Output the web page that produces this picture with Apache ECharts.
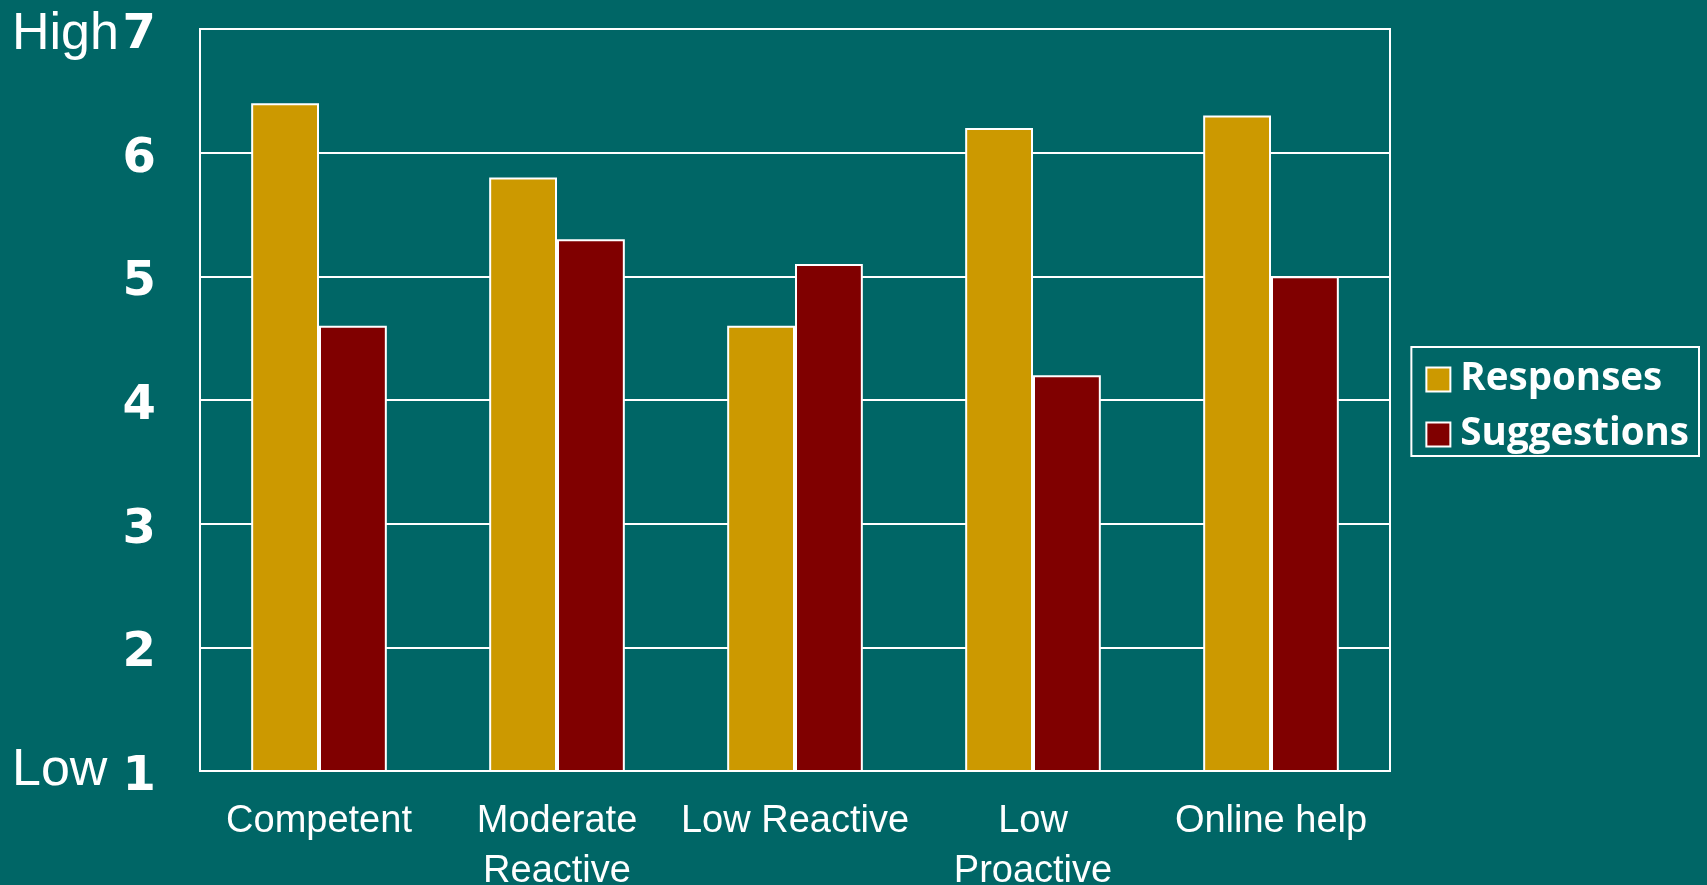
<!DOCTYPE html>
<html><head><meta charset="utf-8">
<script src="https://cdn.jsdelivr.net/npm/echarts@6/dist/echarts.min.js"></script>
<style>html,body{margin:0;padding:0;background:#006666;}#c{width:1707px;height:885px;}</style>
</head><body><div id="c"></div>
<script>
const categories = ['Competent', 'Moderate\nReactive', 'Low Reactive', 'Low\nProactive', 'Online help'];
const responses = [6.4, 5.8, 4.6, 6.2, 6.3];
const suggestions = [4.6, 5.3, 5.1, 4.2, 5.0];
const yMin = 1, yMax = 7, yStep = 1;
const scaleEnds = ['High', 'Low'];

const chart = echarts.init(document.getElementById('c'), null, {renderer: 'canvas'});
const white = '#ffffff';
chart.setOption({
  backgroundColor: '#006666',
  animation: false,
  grid: {left: 200, right: 317, top: 29, bottom: 114, show: true, borderColor: white, borderWidth: 2, backgroundColor: 'transparent', containLabel: false, outerBoundsMode: 'none'},
  legend: {
    orient: 'vertical', right: 8, top: 347,
    data: ['Responses', 'Suggestions'],
    borderColor: white, borderWidth: 2, padding: [13, 10, 2, 14],
    itemWidth: 24, itemHeight: 24, itemGap: 16,
    textStyle: {color: white, fontSize: 38.5, fontWeight: 'bold', fontFamily: 'Open Sans', padding: [0, 0, 0, 5]},
    icon: 'rect'
  },
  xAxis: {
    type: 'category', data: categories,
    axisLine: {lineStyle: {color: white, width: 2}},
    axisTick: {show: false},
    axisLabel: {color: white, fontSize: 38, fontFamily: 'Liberation Sans', margin: 26, lineHeight: 50, interval: 0}
  },
  yAxis: {
    type: 'value', min: yMin, max: yMax, interval: yStep,
    axisLine: {show: true, lineStyle: {color: white, width: 2}},
    axisTick: {show: false},
    splitLine: {lineStyle: {color: white, width: 2}},
    axisLabel: {margin: 44, formatter: '{a|{value}}',
      rich: {a: {color: white, fontSize: 48, fontWeight: 'bold', fontFamily: 'DejaVu Sans', padding: [13, 0, 0, 0]}}}
  },
  series: [
    {name: 'Responses', type: 'bar', data: responses, barGap: '0%', barCategoryGap: '43%',
     itemStyle: {color: '#CC9900', borderColor: white, borderWidth: 2}},
    {name: 'Suggestions', type: 'bar', data: suggestions,
     itemStyle: {color: '#800000', borderColor: white, borderWidth: 2}}
  ],
  graphic: [
    {type: 'text', left: 12, top: 9, style: {text: scaleEnds[0], fill: white, fontSize: 52, fontFamily: 'Liberation Sans', textShadowColor: '#000', textShadowOffsetX: 2, textShadowOffsetY: 2, textShadowBlur: 0}},
    {type: 'text', left: 12, top: 745, style: {text: scaleEnds[1], fill: white, fontSize: 52, fontFamily: 'Liberation Sans', textShadowColor: '#000', textShadowOffsetX: 2, textShadowOffsetY: 2, textShadowBlur: 0}}
  ]
});
</script></body></html>
